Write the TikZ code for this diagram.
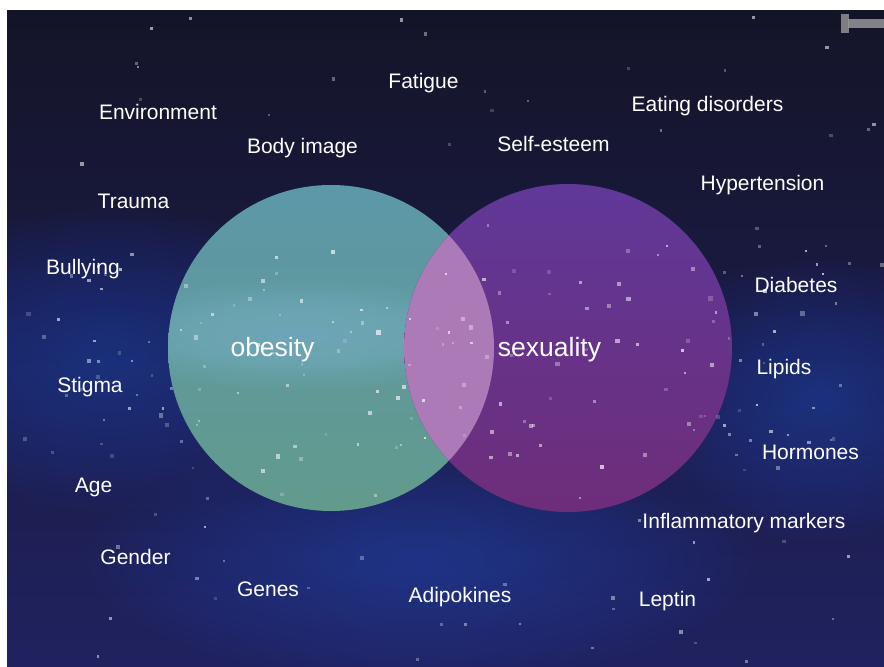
\documentclass[tikz,border=0pt]{standalone}
\usepackage{fontspec}
\setmainfont{Liberation Sans}

\definecolor{skytop}{RGB}{20,20,40}
\definecolor{skymid}{RGB}{32,40,118}
\definecolor{skylow}{RGB}{32,34,96}
\definecolor{glowblue}{RGB}{50,80,200}
\definecolor{bandblue}{RGB}{140,195,235}
\definecolor{obesetop}{RGB}{92,152,168}
\definecolor{obesemid}{RGB}{112,170,205}
\definecolor{obeselow}{RGB}{98,154,140}
\definecolor{sextop}{RGB}{96,56,152}
\definecolor{sexlow}{RGB}{110,45,122}
\definecolor{overlap}{RGB}{172,122,182}

\tikzset{
  term/.style={text=white, font=\fontsize{21}{25}\selectfont, anchor=base, inner sep=0pt},
  topic/.style={text=white, font=\fontsize{26.5}{30}\selectfont, anchor=base, inner sep=0pt},
}

% soft glow: #1 colour, #2 centre, #3 x radius, #4 y radius
\newcommand{\skyglow}[4]{
    \foreach \k in {1,...,20}
        \fill[#1, opacity=0.03] #2 ellipse ({#3*\k/20} and {#4*\k/20});
}

\begin{document}
\begin{tikzpicture}[x=1pt, y=-1pt]
    \useasboundingbox (0,0) rectangle (884,667);
    % Sky
    \fill[white] (0,0) rectangle (884,667);
    \shade[top color=skytop, middle color=skymid, bottom color=skylow] (7,10) rectangle (884,667);
    \begin{scope}
        \clip (7,10) rectangle (884,667);
        \skyglow{glowblue}{(110,360)}{260}{150}
        \skyglow{glowblue}{(820,400)}{190}{140}
        \skyglow{glowblue}{(420,560)}{330}{120}
    \end{scope}
    
    % Satellite
    \fill[gray!60, opacity=0.7] (848,19) rectangle (884,28);
    \fill[gray!80, opacity=0.8] (841,14) rectangle (849,33);
    
    % Circles
    \shade[top color=obesetop, middle color=obesemid, bottom color=obeselow] (331,348) circle (163);
    \begin{scope}
        \clip (331,348) circle (163);
        \skyglow{bandblue}{(300,335)}{220}{55}
    \end{scope}
    \shade[top color=sextop, bottom color=sexlow] (568,348) circle (164);
    \begin{scope}
        \clip (331,348) circle (163);
        \fill[overlap] (568,348) circle (164);
    \end{scope}
    
    % Stars
    \pgfmathsetseed{4}
    \foreach \i in {1,...,90}{
        \pgfmathsetmacro{\sx}{10+870*rnd}
        \pgfmathsetmacro{\sy}{14+650*rnd}
        \pgfmathsetmacro{\ss}{2+2*rnd}
        \pgfmathsetmacro{\so}{0.15+0.45*rnd}
        \fill[white, opacity=\so] (\sx,\sy) rectangle ++(\ss,\ss);
    }
    \foreach \i in {1,...,140}{
        \pgfmathsetmacro{\sx}{10+870*rnd}
        \pgfmathsetmacro{\sy}{240+230*rnd}
        \pgfmathsetmacro{\ss}{2+2.5*rnd}
        \pgfmathsetmacro{\so}{0.15+0.55*rnd}
        \fill[white, opacity=\so] (\sx,\sy) rectangle ++(\ss,\ss);
    }
    
    % Labels
    \node[topic] (obesity) at (272.5,356) {obesity};
    \node[topic] (sexuality) at (549.5,356) {sexuality};
    
    \node[term] (fatigue) at (423.5,88) {Fatigue};
    \node[term] (environment) at (158,119) {Environment};
    \node[term] (eating) at (707.5,111) {Eating disorders};
    \node[term] (bodyimage) at (302.5,153) {Body image};
    \node[term] (selfesteem) at (553.5,151) {Self-esteem};
    \node[term] (hypertension) at (762.5,190) {Hypertension};
    \node[term] (trauma) at (133.5,208) {Trauma};
    \node[term] (bullying) at (83,274) {Bullying};
    \node[term] (diabetes) at (796,292) {Diabetes};
    \node[term] (lipids) at (784,374) {Lipids};
    \node[term] (stigma) at (90,392) {Stigma};
    \node[term] (hormones) at (810.5,459) {Hormones};
    \node[term] (age) at (93.5,492) {Age};
    \node[term] (inflammatory) at (744,528) {Inflammatory markers};
    \node[term] (gender) at (135.5,564) {Gender};
    \node[term] (genes) at (268,596.5) {Genes};
    \node[term] (adipokines) at (460,602) {Adipokines};
    \node[term] (leptin) at (667.5,606) {Leptin};
\end{tikzpicture}
\end{document}
